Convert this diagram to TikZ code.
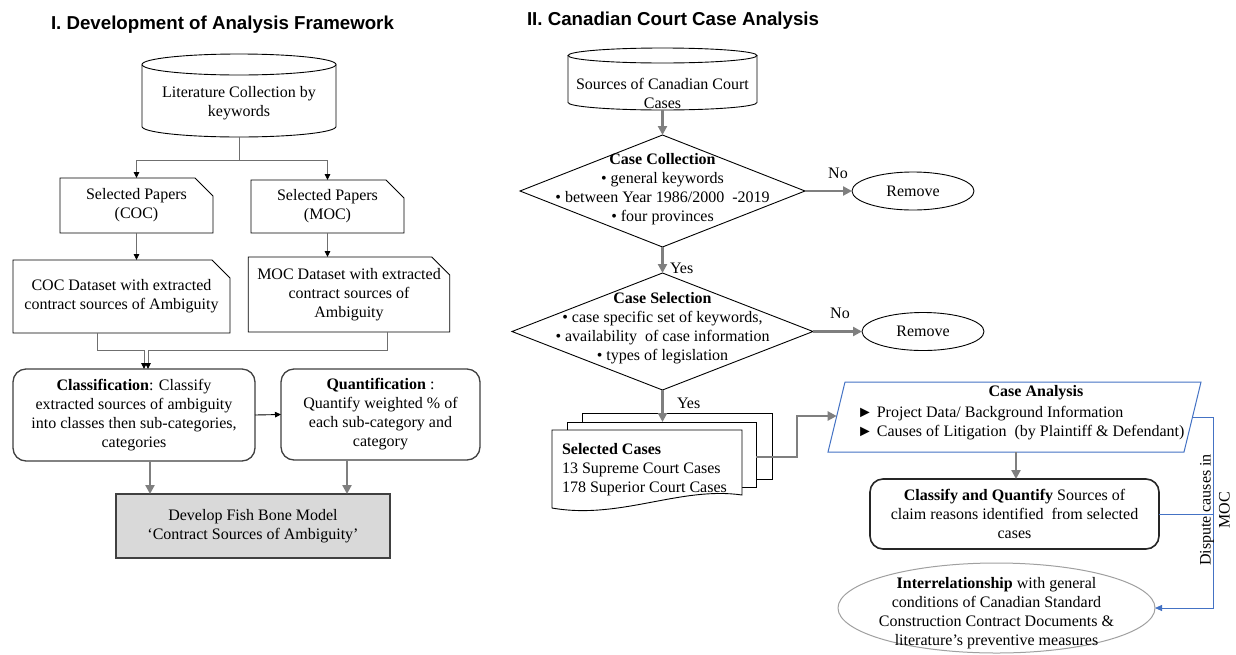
\documentclass[tikz,border=0pt]{standalone}
\usepackage{fontspec}
\setmainfont{Liberation Serif}
\newfontfamily\headfont{Liberation Sans}
\usetikzlibrary{shapes.geometric,shapes.misc,arrows.meta}

\definecolor{linkgray}{HTML}{6F6F6F}
\definecolor{flowgray}{HTML}{7F7F7F}
\definecolor{boxblue}{HTML}{4472C4}
\definecolor{fishfill}{HTML}{D9D9D9}
\definecolor{edgedark}{HTML}{404040}
\definecolor{ellgray}{HTML}{A0A0A0}

\begin{document}
\begin{tikzpicture}[x=1pt,y=-1pt,
  every node/.style={inner sep=0pt, outer sep=0pt},
  body/.style={font=\fontsize{16}{19}\selectfont, align=center},
  heading/.style={font=\headfont\bfseries\fontsize{18.7}{22}\selectfont, anchor=base west},
  cutbox/.style={chamfered rectangle, chamfered rectangle corners=north east,
    chamfered rectangle xsep=9pt, chamfered rectangle ysep=9pt,
    draw, line width=0.9pt, body},
  roundbox/.style={rectangle, rounded corners=13pt, draw=edgedark, line width=1.3pt, body},
  link/.style={draw=linkgray, line width=0.9pt, -{Triangle[length=6pt,width=5.5pt,color=black]}},
  plain/.style={draw=linkgray, line width=0.9pt},
  flow/.style={draw=flowgray, line width=2.6pt, -{Triangle[length=9pt,width=9pt]}},
  bluelink/.style={draw=boxblue, line width=0.8pt},
  decision/.style={diamond, draw, line width=0.9pt},
  endpoint/.style={ellipse, draw, line width=0.9pt, body, minimum width=122pt, minimum height=38pt},
  page/.style={draw, fill=white, line width=0.9pt, rectangle, anchor=north west}
]
\fill[white] (0,0) rectangle (1236,654);
\useasboundingbox (0,0) rectangle (1236,654);

% ---------------- Part I: development of the analysis framework
\node[heading] (titleA) at (51,29) {I. Development of Analysis Framework};

% literature database (cylinder)
\node[minimum width=194pt, minimum height=83pt] (lit) at (239,95.5) {};
\draw[line width=0.9pt, fill=white] (142,64.5) -- (142,126.5)
  arc[start angle=180, end angle=360, x radius=97pt, y radius=10.5pt] -- (336,64.5);
\draw[line width=0.9pt] (239,64.5) ellipse [x radius=97pt, y radius=10.5pt];
\node[body] (litT) at (239,103.5) {Literature Collection by\\keywords};

\coordinate (split) at (239,160);
\node[cutbox, minimum width=153pt, minimum height=55pt] (papC) at (136.5,205.5) {Selected Papers\\(COC)};
\node[cutbox, minimum width=153pt, minimum height=53pt] (papM) at (327.5,206.5) {Selected Papers\\(MOC)};
\draw[plain] (lit.south) -- (split);
\draw[link] (split) -| (papC.north);
\draw[link] (split) -| (papM.north);

\node[cutbox, minimum width=217pt, minimum height=73pt] (dsC) at (121.5,296.5)
  {COC Dataset with extracted\\contract sources of Ambiguity};
\node[cutbox, minimum width=192pt, minimum height=75pt] (dsM) at (349,294.5)
  {MOC Dataset with extracted\\contract sources of\\Ambiguity};
\draw[link] (papC.south) -- (papC.south |- dsC.north);
\draw[link] (papM.south) -- (papM.south |- dsM.north);

\node[roundbox, minimum width=242pt, minimum height=92pt] (cls) at (134,415)
  {\textbf{Classification}: Classify\\extracted sources of ambiguity\\into classes then sub-categories,\\categories};
\node[roundbox, minimum width=199pt, minimum height=91pt] (qnt) at (380.5,414.5)
  {\textbf{Quantification} :\\Quantify weighted \% of\\each sub-category and\\category};
\draw[link] ([xshift=-24.5pt]dsC.south) -- ++(0,17) -| ([xshift=10pt]cls.north);
\draw[link] ([xshift=38pt]dsM.south) -- ++(0,18) -| ([xshift=14pt]cls.north);
\draw[link, draw=black] (cls.east) -- (qnt.west);

\node[rectangle, draw=edgedark, fill=fishfill, line width=1.3pt, body,
  minimum width=274pt, minimum height=64pt] (fish) at (253,526)
  {Develop Fish Bone Model\\`Contract Sources of Ambiguity'};
\draw[flow] ([xshift=16pt]cls.south) -- ([xshift=16pt]cls.south |- fish.north);
\draw[flow] ([xshift=-33.5pt]qnt.south) -- ([xshift=-33.5pt]qnt.south |- fish.north);

% ---------------- Part II: Canadian court case analysis
\node[heading] (titleB) at (527,25) {II. Canadian Court Case Analysis};

% court case sources (cylinder)
\node[minimum width=189pt, minimum height=62pt] (src) at (662.5,79) {};
\draw[line width=0.9pt, fill=white] (568,55.5) -- (568,102.5)
  arc[start angle=180, end angle=360, x radius=94.5pt, y radius=7.5pt] -- (757,55.5);
\draw[line width=0.9pt] (662.5,55.5) ellipse [x radius=94.5pt, y radius=7.5pt];
\node[body] (srcT) at (662.5,93) {Sources of Canadian Court\\Cases};

% case collection
\node[decision, minimum width=285pt, minimum height=112pt] (d1) at (662.5,191) {};
\node[body] (d1T) at (662.5,189.5)
  {\textbf{Case Collection}\\\textbullet{} general keywords\\\textbullet{} between Year 1986/2000 ~-2019\\\textbullet{} four provinces};
\node[endpoint] (r1) at (913,191) {Remove};
\draw[flow] (src.south) -- (d1.north);
\draw[flow] (d1.east) -- (r1.west);
\node[body] (no1) at (838,173) {No};

% case selection
\node[decision, minimum width=301pt, minimum height=117pt] (d2) at (662.5,331.5) {};
\node[body] (d2T) at (662.5,328)
  {\textbf{Case Selection}\\\textbullet{} case specific set of keywords,\\\textbullet{} availability ~of case information\\\textbullet{} types of legislation};
\node[endpoint] (r2) at (923,331.5) {Remove};
\draw[flow] (d1.south) -- (d2.north);
\node[body, anchor=west] (yes1) at (670,268) {Yes};
\draw[flow] (d2.east) -- (r2.west);
\node[body] (no2) at (840,313) {No};

% selected cases (stack of documents)
\node[page, minimum width=190pt, minimum height=66pt] (stB) at (582,413) {};
\node[page, minimum width=189pt, minimum height=65pt] (stM) at (567,422) {};
\draw[fill=white, line width=0.9pt] (552,430) -- (742,430) -- (742,495)
  .. controls (680,486) and (620,520) .. (552,508) -- cycle;
\node[body, anchor=west, align=left] (stT) at (562,469.5)
  {\textbf{Selected Cases}\\13 Supreme Court Cases\\178 Superior Court Cases};
\draw[flow] (d2.south) -- (d2.south |- stM.north);
\node[body, anchor=west] (yes2) at (677,403) {Yes};

% case analysis (parallelogram)
\coordinate (caTL) at (845,382);
\coordinate (caTR) at (1201,382);
\coordinate (caBR) at (1184,452);
\coordinate (caBL) at (828,452);
\coordinate (caIn) at (836.7,416);
\coordinate (caOut) at (1192.5,417);
\coordinate (caBot) at (1016,452);
\draw[boxblue, line width=1pt] (caTL) -- (caTR) -- (caBR) -- (caBL) -- cycle;
\node[body, font=\bfseries\fontsize{16}{19}\selectfont] (caH) at (1036,393) {Case Analysis};
\node[body, anchor=west, align=left] (caT) at (857,423)
  {► Project Data/ Background Information\\► Causes of Litigation ~(by Plaintiff \& Defendant)};
\draw[flow] ([yshift=-2.5pt]stM.east) -- ++(41,0) |- (caIn);

% classify and quantify
\node[roundbox, draw=black!85, line width=1.6pt, minimum width=289pt, minimum height=70pt] (cq) at (1014.5,514)
  {\textbf{Classify and Quantify} Sources of\\claim reasons identified ~from selected\\cases};
\draw[flow] (caBot) -- (caBot |- cq.north);

% interrelationship
\node[ellipse, draw=ellgray, line width=1pt, minimum width=317pt, minimum height=90pt] (inter) at (996.5,608) {};
\node[body] (interT) at (996.5,613)
  {\textbf{Interrelationship} with general\\conditions of Canadian Standard\\Construction Contract Documents \&\\literature's preventive measures};

% dispute causes feedback
\coordinate (rail) at (1213,417);
\draw[bluelink, -{Triangle[length=7pt,width=6pt]}] (caOut) -- (rail) |- (inter.east);
\draw[bluelink] (cq.east) -- (cq.east -| rail);
\node[body, rotate=90] (dlab) at (1215,510) {Dispute causes in\\MOC};

\end{tikzpicture}
\end{document}
